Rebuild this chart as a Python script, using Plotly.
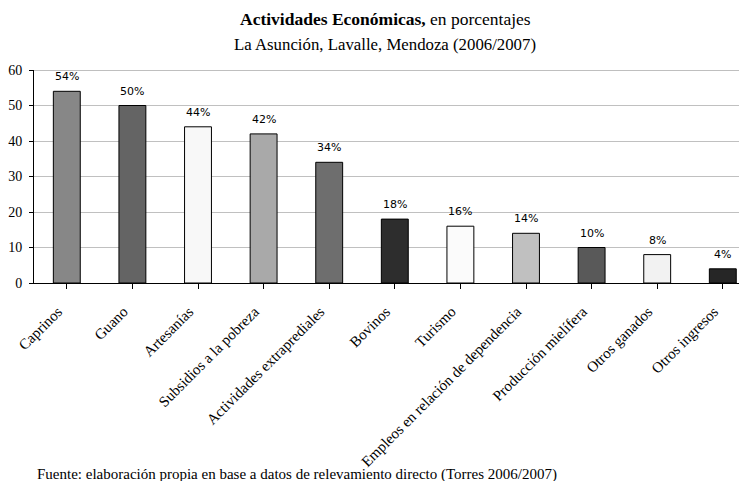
import plotly.graph_objects as go

categories = ["Caprinos", "Guano", "Artesanías", "Subsidios a la pobreza",
              "Actividades extraprediales", "Bovinos", "Turismo",
              "Empleos en relación de dependencia", "Producción mielífera",
              "Otros ganados", "Otros ingresos"]
values = [54, 50, 44, 42, 34, 18, 16, 14, 10, 8, 4]
value_labels = ["54%", "50%", "44%", "42%", "34%", "18%", "16%", "14%", "10%", "8%", "4%"]
bar_colors = ["#878787", "#646464", "#f8f8f8", "#a9a9a9", "#6e6e6e", "#2d2d2d",
              "#fbfbfb", "#c0c0c0", "#595959", "#f2f2f2", "#262626"]
y_ticks = [0, 10, 20, 30, 40, 50, 60]

# page has an 8px body margin; figure is sized/offset to compensate
OFF = 8
W, H = 747 - OFF, 481 - OFF
L, T = 34 - OFF, 70 - OFF
B = H - (283 - OFF)
R = 0
plot_w = W - L - R
plot_h = H - T - B
cat_px = 65.6
x_max = -0.5 + plot_w / cat_px

fig = go.Figure()
fig.add_trace(go.Bar(
    x=list(range(len(categories))), y=values,
    marker=dict(color=bar_colors, line=dict(color="#000000", width=1)),
    width=0.41, hoverinfo="skip",
))

serif = "Liberation Serif"

for i, (v, t) in enumerate(zip(values, value_labels)):
    fig.add_annotation(x=i, y=v, text=t, showarrow=False, yanchor="bottom",
                       yshift=6, font=dict(family="DejaVu Sans", size=11, color="#000"))

def py(page_y):
    return 1 + ((70) - page_y) / plot_h

def px(page_x):
    return (page_x - 34) / plot_w

fig.add_annotation(xref="paper", yref="paper", x=px(385), y=py(19),
                   text="<b>Actividades Económicas,</b> en porcentajes", showarrow=False,
                   yanchor="middle", font=dict(family=serif, size=17.5, color="#000"))
fig.add_annotation(xref="paper", yref="paper", x=px(385), y=py(44),
                   text="La Asunción, Lavalle, Mendoza (2006/2007)", showarrow=False,
                   yanchor="middle", font=dict(family=serif, size=16.8, color="#000"))
fig.add_annotation(xref="paper", yref="paper", x=px(35), y=py(474),
                   xanchor="left", yanchor="middle",
                   text="Fuente: elaboración propia en base a datos de relevamiento directo (Torres 2006/2007)",
                   showarrow=False, font=dict(family=serif, size=15, color="#000"))

fig.update_layout(
    width=W, height=H, margin=dict(l=L, r=R, t=T, b=B, autoexpand=False),
    paper_bgcolor="white", plot_bgcolor="white", showlegend=False,
    xaxis=dict(
        range=[-0.5, x_max], tickmode="array", tickvals=list(range(len(categories))),
        ticktext=categories, tickangle=-45, tickson="boundaries",
        ticks="outside", ticklen=5, tickcolor="#000", showline=True, linecolor="#000",
        showgrid=False, zeroline=False, ticklabelshift=-9, ticklabelstandoff=8,
        tickfont=dict(family=serif, size=15, color="#000"),
    ),
    yaxis=dict(
        range=[0, 60], tickvals=y_ticks, ticks="outside", ticklen=4, tickcolor="#000",
        showline=True, linecolor="#000", showgrid=True, gridcolor="#c0c0c0",
        zeroline=False, ticklabelstandoff=4, tickfont=dict(family=serif, size=14, color="#000"),
    ),
)
fig.add_shape(type="line", xref="paper", yref="y", x0=0, x1=1, y0=60, y1=60,
              line=dict(color="#808080", width=1))

fig.write_html("out.html")
